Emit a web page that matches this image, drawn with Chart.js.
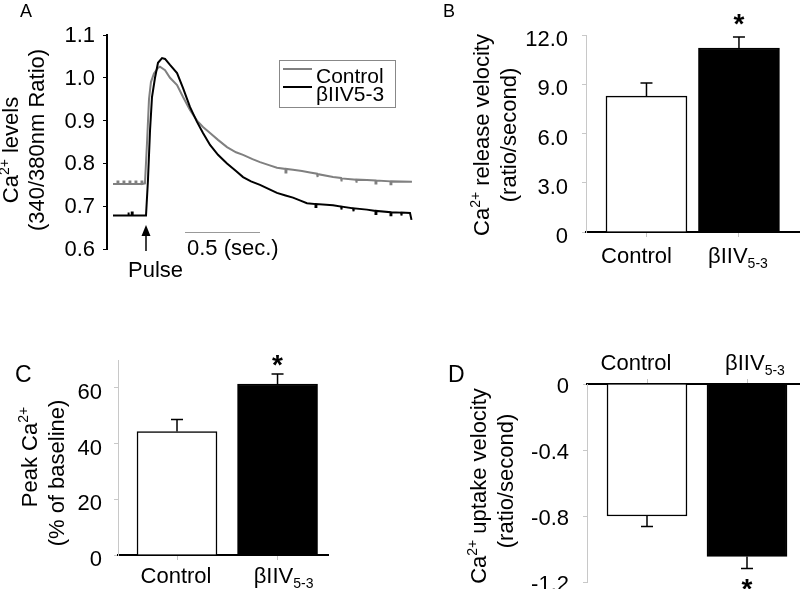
<!DOCTYPE html>
<html>
<head>
<meta charset="utf-8">
<script src="https://cdn.jsdelivr.net/npm/chart.js@4.4.1/dist/chart.umd.min.js"></script>
<style>
  body { margin: 0; background: #fff; }
  #wrap { position: relative; width: 800px; height: 589px; overflow: hidden; background: #fff; }
  canvas { position: absolute; }
</style>
</head>
<body>
<div id="wrap">
  <canvas id="pA" width="420" height="295" style="left:0;top:0"></canvas>
  <canvas id="pB" width="380" height="295" style="left:420px;top:0"></canvas>
  <canvas id="pC" width="420" height="289" style="left:0;top:300px"></canvas>
  <canvas id="pD" width="380" height="310" style="left:420px;top:300px"></canvas>
</div>
<script>
// DATA
const groups = ['Control', 'βIIV5-3'];
const barFill = ['#ffffff', '#000000'];

// A: Ca2+ transient traces (time in s, 340/380 ratio); square blips = recording noise
const ctrlTime = [0,
  0.03, 0.03, 0.036, 0.036, 0.07, 0.07, 0.076, 0.076, 0.11, 0.11, 0.116, 0.116,
  0.15, 0.15, 0.156, 0.156, 0.19, 0.19, 0.196, 0.196,
  0.213, 0.227, 0.24, 0.253, 0.273, 0.3, 0.313, 0.347, 0.38, 0.427, 0.467, 0.513, 0.56, 0.6, 0.647, 0.7, 0.76,
  0.82, 0.867, 0.93, 0.98, 1.04, 1.093,
  1.15, 1.15, 1.156, 1.156, 1.2, 1.26, 1.313,
  1.36, 1.36, 1.366, 1.366, 1.467,
  1.52, 1.52, 1.526, 1.526, 1.62, 1.62, 1.626, 1.626, 1.693,
  1.75, 1.75, 1.756, 1.756, 1.85, 1.85, 1.856, 1.856, 1.993];
const ctrlRatio = [0.752,
  0.752, 0.758, 0.758, 0.752, 0.752, 0.758, 0.758, 0.752, 0.752, 0.758, 0.758, 0.752,
  0.752, 0.758, 0.758, 0.752, 0.752, 0.758, 0.758, 0.752,
  0.753, 0.85, 0.95, 0.99, 1.01, 1.023, 1.026, 1.018, 1.0, 0.983, 0.955, 0.925, 0.9, 0.885, 0.871, 0.855, 0.838,
  0.826, 0.82, 0.81, 0.803, 0.796, 0.79,
  0.787, 0.779, 0.779, 0.787, 0.785, 0.782, 0.779,
  0.776, 0.768, 0.768, 0.775, 0.768,
  0.766, 0.758, 0.758, 0.765, 0.762, 0.755, 0.755, 0.762, 0.761,
  0.76, 0.753, 0.753, 0.76, 0.758, 0.751, 0.751, 0.758, 0.757];
const bivTime = [0,
  0.1, 0.1, 0.106, 0.106, 0.125, 0.125, 0.131, 0.131,
  0.22, 0.233, 0.247, 0.26, 0.28, 0.3, 0.327, 0.347, 0.38,
  0.427, 0.467, 0.513, 0.56, 0.6, 0.647, 0.7, 0.76, 0.82, 0.867, 0.92, 0.98, 1.04, 1.093, 1.15, 1.2, 1.25, 1.293,
  1.35, 1.35, 1.356, 1.356, 1.467,
  1.52, 1.52, 1.526, 1.526, 1.6, 1.6, 1.606, 1.606, 1.693,
  1.75, 1.75, 1.756, 1.756, 1.85, 1.85, 1.856, 1.856, 1.92, 1.92, 1.926, 1.926, 1.98, 1.99];
const bivRatio = [0.678,
  0.678, 0.685, 0.685, 0.678, 0.678, 0.685, 0.685, 0.678,
  0.678, 0.76, 0.878, 0.955, 1.0, 1.035, 1.046, 1.044, 1.03,
  1.011, 0.976, 0.932, 0.897, 0.871, 0.843, 0.82, 0.8, 0.782, 0.768, 0.758, 0.75, 0.74, 0.731, 0.725, 0.72, 0.713, 0.707,
  0.705, 0.698, 0.698, 0.705, 0.702,
  0.699, 0.692, 0.692, 0.699, 0.695, 0.688, 0.688, 0.695, 0.692,
  0.689, 0.682, 0.682, 0.689, 0.686, 0.679, 0.679, 0.686, 0.685, 0.678, 0.678, 0.685, 0.684, 0.668];
const yTicksA = [0.6, 0.7, 0.8, 0.9, 1.0, 1.1];
const pulseTime = 0.22;
const scaleBarStart = 0.48, scaleBarLen = 0.5;

// B: release velocity (ratio/second)
const releaseMean = [8.28, 11.21];
const releaseSem = [0.79, 0.67];
const yTicksB = [0, 3, 6, 9, 12];
// C: peak Ca2+ (% of baseline)
const peakMean = [44.3, 61.4];
const peakSem = [4.3, 3.6];
const yTicksC = [0, 20, 40, 60];
// D: uptake velocity (ratio/second)
const uptakeMean = [-0.8, -1.045];
const uptakeSem = [0.064, 0.073];
const yTicksD = [0, -0.4, -0.8, -1.2];
const significant = [false, true];

const FONT = '"Liberation Sans", Arial, Helvetica, sans-serif';
Chart.defaults.font.family = FONT;
Chart.defaults.font.size = 22;
Chart.defaults.color = '#000';

// rich text: ^{..} superscript, _{..} subscript
function parseRich(s) {
  const out = [];
  const re = /([\^_])\{([^}]*)\}|[^\^_]+/g;
  let m;
  while ((m = re.exec(s))) {
    if (m[1]) out.push({ t: m[2], k: m[1] === '^' ? 'sup' : 'sub' });
    else out.push({ t: m[0], k: 'n' });
  }
  return out;
}
function richText(ctx, s, x, y, size, align, rot) {
  const parts = parseRich(s);
  const small = Math.round(size * 0.64);
  let w = 0;
  parts.forEach(p => {
    ctx.font = (p.k === 'n' ? size : small) + 'px ' + FONT;
    p.w = ctx.measureText(p.t).width;
    w += p.w;
  });
  ctx.save();
  ctx.translate(x, y);
  if (rot) ctx.rotate(rot);
  let cx = align === 'center' ? -w / 2 : align === 'right' ? -w : 0;
  ctx.textAlign = 'left';
  ctx.textBaseline = 'alphabetic';
  ctx.fillStyle = '#000';
  parts.forEach(p => {
    ctx.font = (p.k === 'n' ? size : small) + 'px ' + FONT;
    const dy = p.k === 'sup' ? -size * 0.42 : p.k === 'sub' ? size * 0.24 : 0;
    ctx.fillText(p.t, cx, dy);
    cx += p.w;
  });
  ctx.restore();
}
const subLabel = s => s.replace(/(\d-\d)$/, '_{$1}');

// PANEL A
const traceColors = ['#808080', '#000000'];
new Chart(document.getElementById('pA'), {
  type: 'line',
  data: {
    datasets: [
      { label: 'Control', data: ctrlTime.map((t, i) => ({ x: t, y: ctrlRatio[i] })),
        borderColor: traceColors[0], borderWidth: 2, pointRadius: 0, tension: 0, order: 2 },
      { label: 'βIIV5-3', data: bivTime.map((t, i) => ({ x: t, y: bivRatio[i] })),
        borderColor: traceColors[1], borderWidth: 2, pointRadius: 0, tension: 0, order: 1 }
    ]
  },
  options: {
    responsive: false, animation: false,
    layout: { padding: { top: 35, right: 4, bottom: 46, left: 0 } },
    plugins: { legend: { display: false }, tooltip: { enabled: false } },
    scales: {
      x: { type: 'linear', display: false, min: -0.04, max: 2.02 },
      y: {
        min: 0.6, max: 1.1,
        afterBuildTicks: s => { s.ticks = yTicksA.map(v => ({ value: v })); },
        afterFit: s => { s.width = 107; },
        ticks: { padding: 8, labelOffset: 1, callback: v => v.toFixed(1) },
        grid: { drawOnChartArea: false, drawTicks: true, tickLength: 4, color: '#000' },
        border: { display: true, color: '#000', width: 2 }
      }
    }
  },
  plugins: [{
    id: 'decoA',
    afterDraw(chart) {
      const ctx = chart.ctx, xs = chart.scales.x;
      ctx.save();
      ctx.fillStyle = '#000';
      ctx.font = '18px ' + FONT;
      ctx.fillText('A', 20, 17);
      richText(ctx, 'Ca^{2+} levels', 18, 150, 22, 'center', -Math.PI / 2);
      richText(ctx, '(340/380nm Ratio)', 44, 140, 22, 'center', -Math.PI / 2);
      // legend
      ctx.strokeStyle = '#888'; ctx.lineWidth = 1;
      ctx.strokeRect(279.5, 60.5, 116, 47);
      chart.data.datasets.forEach((d, i) => {
        const y = [69, 87][i];
        ctx.strokeStyle = d.borderColor; ctx.lineWidth = 2;
        ctx.beginPath(); ctx.moveTo(283, y); ctx.lineTo(312, y); ctx.stroke();
        ctx.font = '21px ' + FONT; ctx.fillStyle = '#000';
        ctx.fillText(d.label, 316, [83, 101][i]);
      });
      // pulse arrow
      const px = xs.getPixelForValue(pulseTime);
      ctx.strokeStyle = '#000'; ctx.lineWidth = 1.5;
      ctx.beginPath(); ctx.moveTo(px, 233); ctx.lineTo(px, 251); ctx.stroke();
      ctx.beginPath(); ctx.moveTo(px, 225); ctx.lineTo(px - 4.5, 236); ctx.lineTo(px + 4.5, 236); ctx.closePath(); ctx.fill();
      ctx.font = '22px ' + FONT;
      ctx.fillText('Pulse', 128, 277);
      // time scale bar
      ctx.strokeStyle = '#999'; ctx.lineWidth = 1;
      ctx.beginPath();
      ctx.moveTo(xs.getPixelForValue(scaleBarStart), 232.5);
      ctx.lineTo(xs.getPixelForValue(scaleBarStart + scaleBarLen), 232.5);
      ctx.stroke();
      ctx.fillText(scaleBarLen + ' (sec.)', 187, 255);
      ctx.restore();
    }
  }]
});

// PANELS B, C, D
function drawBarDeco(chart, o) {
  const ctx = chart.ctx, xs = chart.scales.x, ys = chart.scales.y;
  ctx.save();
  ctx.strokeStyle = '#000'; ctx.fillStyle = '#000'; ctx.lineWidth = 1.5;
  o.mean.forEach((m, i) => {
    const x = xs.getPixelForValue(i + 1);
    const sign = m < 0 ? -1 : 1;
    const y0 = ys.getPixelForValue(m), y1 = ys.getPixelForValue(m + sign * o.sem[i]);
    ctx.beginPath();
    ctx.moveTo(x, y0); ctx.lineTo(x, y1);
    ctx.moveTo(x - 6, y1); ctx.lineTo(x + 6, y1);
    ctx.stroke();
    if (significant[i]) {
      ctx.font = 'bold 28px ' + FONT; ctx.textAlign = 'center';
      const cy = y1 - sign * o.starGap;
      ctx.fillText('*', x, cy + 16);
      ctx.textAlign = 'left';
    }
    richText(ctx, subLabel(groups[i]), x + o.labelShift[i], o.labelBase, 22, 'center', 0);
  });
  o.title.forEach((t, k) => richText(ctx, t, o.titleX[k], o.titleY[k], 22, 'center', -Math.PI / 2));
  ctx.font = o.letterSize + 'px ' + FONT;
  ctx.fillText(o.letter, o.letterX, o.letterY);
  ctx.restore();
}

function barChart(id, o) {
  return new Chart(document.getElementById(id), {
    type: 'bar',
    data: {
      datasets: [{
        data: o.mean.map((v, i) => ({ x: i + 1, y: v })),
        backgroundColor: barFill, borderColor: '#000', borderWidth: 1.5,
        borderSkipped: 'start', barThickness: o.barW
      }]
    },
    options: {
      responsive: false, animation: false,
      layout: { padding: o.pad },
      plugins: { legend: { display: false }, tooltip: { enabled: false } },
      scales: {
        x: {
          type: 'linear', position: o.xPos, min: o.xMin, max: o.xMax, offset: false,
          afterBuildTicks: s => { s.ticks = o.mean.map((v, i) => ({ value: i + 1 })); },
          afterFit: s => { s.height = 10; },
          ticks: { display: false },
          grid: { offset: false, drawOnChartArea: false, drawTicks: true, tickLength: 5, color: '#c4c4c4' },
          border: { display: true, color: '#000', width: 2 }
        },
        y: {
          min: o.yMin, max: o.yMax,
          afterBuildTicks: s => { s.ticks = o.yTicks.map(v => ({ value: v })); },
          afterFit: s => { s.width = o.yW; },
          ticks: { padding: o.tickPad, labelOffset: o.labelOff, callback: o.fmt },
          grid: { drawOnChartArea: false, drawTicks: true, tickLength: 4, color: '#c8c8c8' },
          border: { display: true, color: '#c8c8c8', width: 1 }
        }
      }
    },
    plugins: [{ id: 'deco', afterDraw: chart => drawBarDeco(chart, o) }]
  });
}

barChart('pB', {
  mean: releaseMean, sem: releaseSem, yTicks: yTicksB, yMin: 0, yMax: 12,
  fmt: v => (v === 0 ? '0' : v.toFixed(1)),
  xMin: 0.346, xMax: 2.66, xPos: 'bottom', barW: 81, yW: 166, tickPad: 14, labelOff: 5,
  pad: { top: 35, right: 0, bottom: 53, left: 0 },
  starGap: 20, labelShift: [-10, -1], labelBase: 263,
  title: ['Ca^{2+} release velocity', '(ratio/second)'], titleX: [69, 96], titleY: [135, 135],
  letter: 'B', letterX: 23, letterY: 17, letterSize: 18
});

barChart('pC', {
  mean: peakMean, sem: peakSem, yTicks: yTicksC, yMin: 0, yMax: 70,
  fmt: v => String(v),
  xMin: 0.413, xMax: 2.502, xPos: 'bottom', barW: 80, yW: 118, tickPad: 12, labelOff: 5,
  pad: { top: 60, right: 92, bottom: 24, left: 0 },
  starGap: 16, labelShift: [-1, 6], labelBase: 283,
  title: ['Peak Ca^{2+}', '(% of baseline)'], titleX: [37, 64], titleY: [157, 173],
  letter: 'C', letterX: 15, letterY: 82, letterSize: 23
});

barChart('pD', {
  mean: uptakeMean, sem: uptakeSem, yTicks: yTicksD, yMin: -1.2, yMax: 0,
  fmt: v => (v === 0 ? '0' : v.toFixed(1)),
  xMin: 0.4, xMax: 2.53, xPos: 'top', barW: 80, yW: 167, tickPad: 14, labelOff: 3,
  pad: { top: 74, right: 0, bottom: 28, left: 0 },
  starGap: 14, labelShift: [-11, 8], labelBase: 70,
  title: ['Ca^{2+} uptake velocity', '(ratio/second)'], titleX: [66, 93], titleY: [186, 181],
  letter: 'D', letterX: 28, letterY: 82, letterSize: 23
});
</script>
</body>
</html>
